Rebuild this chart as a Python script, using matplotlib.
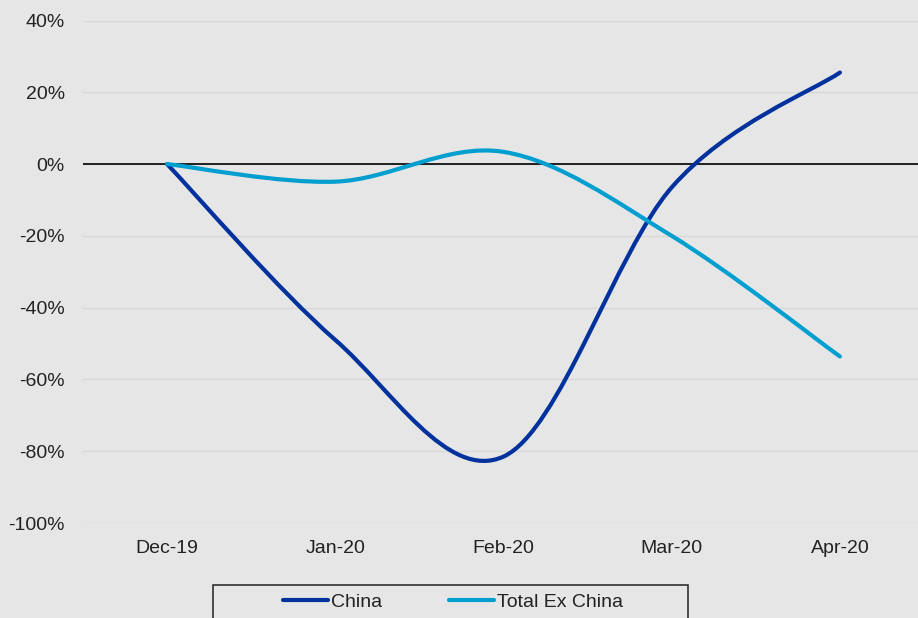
import matplotlib
matplotlib.use("Agg")
import matplotlib.pyplot as plt
from matplotlib.path import Path
from matplotlib.patches import PathPatch, Rectangle
from matplotlib.lines import Line2D
import numpy as np

months = ["Dec-19", "Jan-20", "Feb-20", "Mar-20", "Apr-20"]
china = [0.0, -49.0, -81.5, -6.5, 25.5]
ex_china = [0.0, -4.9, 3.4, -20.0, -53.6]
y_ticks = [-100, -80, -60, -40, -20, 0, 20, 40]

BG = "#e6e6e6"
TXT = "#222222"
FS = 14
plt.rcParams["font.family"] = ["Liberation Sans", "DejaVu Sans"]


# smooth line like the spreadsheet one: cubic bezier through every point
def smooth_path(xs, ys):
    pts = np.column_stack([xs, ys]).astype(float)
    n = len(pts)
    verts = [pts[0]]
    codes = [Path.MOVETO]
    for i in range(n - 1):
        p0 = pts[max(i - 1, 0)]
        p1 = pts[i]
        p2 = pts[i + 1]
        p3 = pts[min(i + 2, n - 1)]
        c1 = p1 + (p2 - p0) / 6.0
        c2 = p2 - (p3 - p1) / 6.0
        verts += [c1, c2, p2]
        codes += [Path.CURVE4] * 3
    return Path(verts, codes)


fig = plt.figure(figsize=(9.18, 6.18), dpi=100, facecolor=BG)
ax = fig.add_axes([83 / 918, 1 - 523 / 618, 841 / 918, (523 - 20.5) / 618])
ax.set_facecolor(BG)

x = np.arange(len(months))
series = [("China", china, "#00319c"), ("Total Ex China", ex_china, "#009fd0")]

ax.axhline(0, color="#111111", lw=1.3, zorder=2)
handles = []
for z, (name, vals, col) in enumerate(series):
    patch = PathPatch(smooth_path(x, vals), facecolor="none", edgecolor=col,
                      lw=3.0, capstyle="round", joinstyle="round", zorder=3 + z)
    ax.add_patch(patch)
    handles.append(Line2D([], [], color=col, lw=3.0, solid_capstyle="round", label=name))

ax.set_xlim(-0.5, len(months) - 0.5)
ax.set_ylim(-100, 40)
ax.set_xticks(x)
ax.set_xticklabels(months)
ax.set_yticks(y_ticks)
ax.set_yticklabels([f"{v}%" for v in y_ticks])
ax.tick_params(length=0, labelsize=FS, labelcolor=TXT)
ax.tick_params(axis="y", pad=13)
ax.tick_params(axis="x", pad=12.5)
ax.grid(axis="y", color="#d8d8d8", lw=1.0, zorder=1)
ax.set_axisbelow(True)
for s in ax.spines.values():
    s.set_visible(False)

# legend box (cut off at the bottom edge like the original)
fig.patches.append(Rectangle((213 / 918, -0.05), (688 - 213) / 918, 0.05 + (618 - 585) / 618,
                             transform=fig.transFigure, facecolor="none",
                             edgecolor="#222222", lw=1.1))
fig.legend(handles=handles, loc="center", bbox_to_anchor=(453 / 918, 1 - 602 / 618),
           ncol=2, frameon=False, fontsize=FS, handlelength=2.35, handletextpad=0.15,
           columnspacing=3.4, labelcolor=TXT)

fig.savefig("out.png", dpi=100, facecolor=BG)
